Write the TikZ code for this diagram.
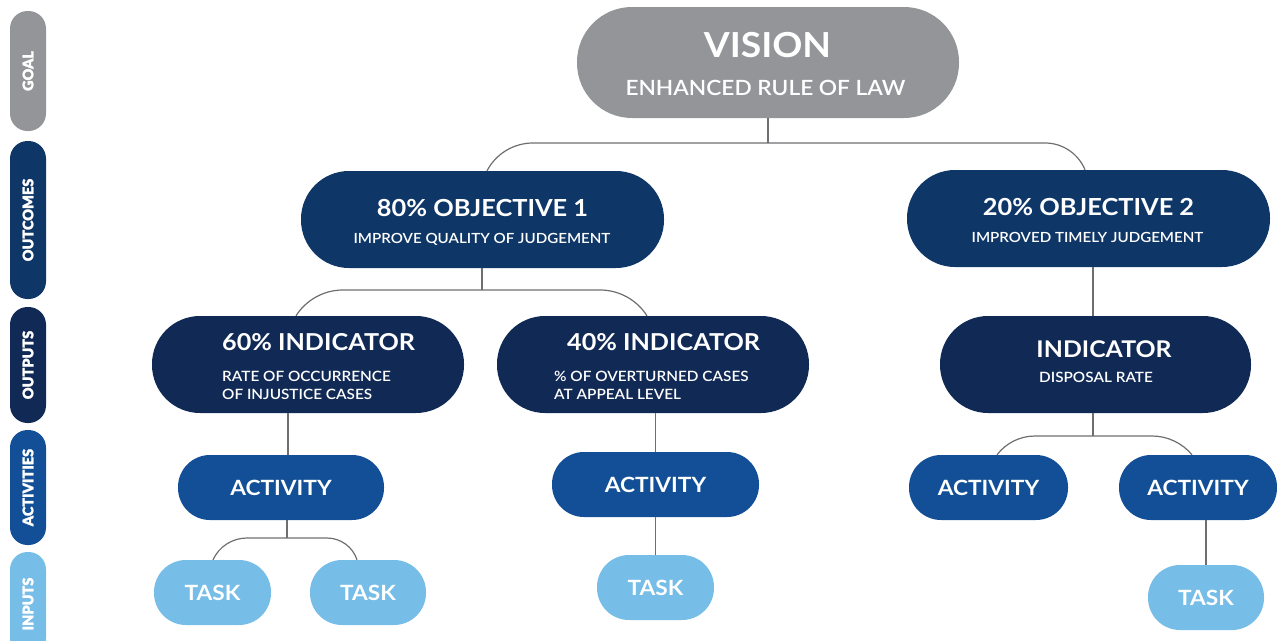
\documentclass[tikz,border=0pt]{standalone}
\usepackage{fontspec}
\setmainfont{Lato}
\newfontfamily\widefont{Lato}[FakeStretch=1.08]
\newfontfamily\semifont{Lato Semibold}[FakeStretch=1.08]
\newfontfamily\tabfont{Lato Black}[FakeBold=1.5]

\definecolor{goalgray}{HTML}{939598}
\definecolor{outcomeblue}{HTML}{0E3667}
\definecolor{outputnavy}{HTML}{112A55}
\definecolor{activityblue}{HTML}{124F96}
\definecolor{inputblue}{HTML}{76BDE7}
\definecolor{linkgray}{HTML}{6D6E71}

\tikzset{
    pill/.style={rectangle, rounded corners=#1, inner sep=0pt, text=white, align=center},
    tab/.style={pill=17.5pt, minimum height=36pt, rotate=90, font=\tabfont\fontsize{14.5}{14.5}\selectfont},
    goalbox/.style={pill=55pt, fill=goalgray, minimum width=382pt, minimum height=111pt},
    objbox/.style={pill=48pt, fill=outcomeblue, minimum width=363pt, minimum height=97pt},
    indbox/.style={pill=48pt, fill=outputnavy, minimum width=312pt, minimum height=97pt},
    actbox/.style={pill=32pt, fill=activityblue, minimum height=65pt,
        font=\widefont\bfseries\fontsize{21}{21}\selectfont},
    taskbox/.style={pill=32pt, fill=inputblue, minimum width=117pt, minimum height=65pt,
        font=\widefont\bfseries\fontsize{21}{21}\selectfont},
    ttl/.style={inner sep=0pt, text=white, anchor=base, font=\widefont\bfseries\fontsize{#1}{#1}\selectfont},
    ttl/.default=23.5,
    sub/.style={inner sep=0pt, text=white, anchor=base, align=left, font=\semifont\fontsize{#1}{18}\selectfont},
    sub/.default=14,
    link/.style={linkgray, line width=1.2pt}
}

\begin{document}
\begin{tikzpicture}[x=1pt, y=-1pt]

    % Define parameters
    \def\ybusgoal{143}  % bus under the vision
    \def\ybusobj{290}   % bus under objective 1
    \def\ybusind{436}   % bus under the right indicator
    \def\ybusact{538}   % bus under the left activity

    \useasboundingbox (0,0) rectangle (1277,640);

    % level tabs
    \node[tab, fill=goalgray, minimum width=120pt] (goal) at (28,71) {GOAL};
    \node[tab, fill=outcomeblue, minimum width=158pt] (outcomes) at (28,220) {OUTCOMES};
    \node[tab, fill=outputnavy, minimum width=116pt] (outputs) at (28,365) {OUTPUTS};
    \node[tab, fill=activityblue, minimum width=115pt] (activities) at (28,487.5) {ACTIVITIES};
    \node[tab, fill=inputblue, minimum width=104pt] (inputs) at (28,604) {INPUTS};

    % vision and objectives
    \node[goalbox] (vision) at (768,62.5) {};
    \node[ttl=34.5] (visionttl) at (767.5,57) {VISION};
    \node[sub=21] (visionsub) at (765.5,95) {ENHANCED RULE OF LAW};
    \node[objbox] (obj1) at (482.5,219.5) {};
    \node[ttl] (obj1ttl) at (482.5,216) {80\% OBJECTIVE 1};
    \node[sub] (obj1sub) at (482,243) {IMPROVE QUALITY OF JUDGEMENT};
    \node[objbox] (obj2) at (1088.5,218.5) {};
    \node[ttl] (obj2ttl) at (1088.5,215) {20\% OBJECTIVE 2};
    \node[sub] (obj2sub) at (1087.5,242) {IMPROVED TIMELY JUDGEMENT};

    % indicators
    \node[indbox] (ind1) at (308,364.5) {};
    \node[ttl=23.3, anchor=base west] (ind1ttl) at (222,350) {60\% INDICATOR};
    \node[sub=14.2, anchor=west] (ind1sub) at (222,385) {RATE OF OCCURRENCE\\OF INJUSTICE CASES};
    \node[indbox] (ind2) at (653,364.5) {};
    \node[ttl=23.3, anchor=base west] (ind2ttl) at (567,350) {40\% INDICATOR};
    \node[sub=14.2, anchor=west] (ind2sub) at (554,385) {\% OF OVERTURNED CASES\\AT APPEAL LEVEL};
    \node[indbox, minimum width=311pt] (ind3) at (1095.5,364.5) {};
    \node[ttl=23] (ind3ttl) at (1104,357) {INDICATOR};
    \node[sub=14.2] (ind3sub) at (1096,382) {DISPOSAL RATE};

    % activities
    \node[actbox, minimum width=206pt] (act1) at (281,487.5) {ACTIVITY};
    \node[actbox, minimum width=207pt] (act2) at (655.5,484.5) {ACTIVITY};
    \node[actbox, minimum width=159pt] (act3) at (988.5,487.5) {ACTIVITY};
    \node[actbox, minimum width=158pt] (act4) at (1198,487.5) {ACTIVITY};

    % tasks
    \node[taskbox] (task1) at (212.5,592.5) {TASK};
    \node[taskbox, minimum width=116pt] (task2) at (368,592.5) {TASK};
    \node[taskbox] (task3) at (655.5,587.5) {TASK};
    \node[taskbox, minimum width=116pt] (task4) at (1206,597.5) {TASK};

    % vision to objectives
    \draw[link] (vision.south) -- (vision.south |- 0,\ybusgoal);
    \draw[link] ([xshift=4.5pt]obj1.north) .. controls (495.9,153.8) and (513.6,\ybusgoal) .. (533,\ybusgoal)
        -- (1045,\ybusgoal) .. controls (1062.6,\ybusgoal) and (1078.4,153.7) .. ([xshift=-3.5pt]obj2.north);

    % objective 1 to indicators
    \draw[link] ([xshift=-0.5pt]obj1.south) -- ([xshift=-0.5pt]obj1.south |- 0,\ybusobj);
    \draw[link] ([xshift=-12pt]ind1.north) .. controls (306.2,299.8) and (323.9,\ybusobj) .. (343,\ybusobj)
        -- (600,\ybusobj) .. controls (619.1,\ybusobj) and (636.8,299.8) .. ([xshift=-6pt]ind2.north);

    % objective 2 to indicator
    \draw[link] ([xshift=-2.5pt]ind3.north |- obj2.south) -- ([xshift=-2.5pt]ind3.north);

    % indicators to activities
    \draw[link] ([xshift=-20pt]ind1.south) -- ([xshift=7pt]act1.north);
    \draw[link] (act2.north |- ind2.south) -- (act2.north);
    \draw[link] ([xshift=-2.5pt]ind3.south) -- ([xshift=-2.5pt]ind3.south |- 0,\ybusind);
    \draw[link] ([xshift=8.5pt]act3.north) .. controls (1006,443) and (1020,\ybusind) .. (1035,\ybusind)
        -- (1152,\ybusind) .. controls (1167.5,\ybusind) and (1182.2,443) .. ([xshift=-6pt]act4.north);

    % activities to tasks
    \draw[link] ([xshift=6pt]act1.south) -- ([xshift=6pt]act1.south |- 0,\ybusact);
    \draw[link] ([xshift=0.5pt]task1.north) .. controls (219,546.6) and (232.3,\ybusact) .. (247,\ybusact)
        -- (327,\ybusact) .. controls (340.7,\ybusact) and (352.9,547) .. ([xshift=-11pt]task2.north);
    \draw[link] (act2.south) -- (task3.north);
    \draw[link] (task4.north |- act4.south) -- (task4.north);

\end{tikzpicture}
\end{document}
